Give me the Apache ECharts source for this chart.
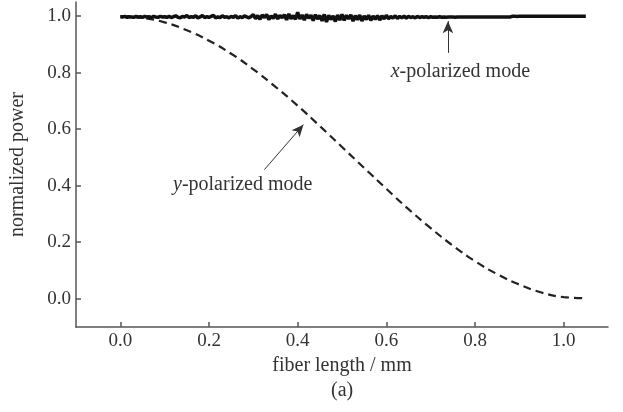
<!DOCTYPE html>
<html>
<head>
<meta charset="utf-8">
<script src="https://cdn.jsdelivr.net/npm/echarts@6/dist/echarts.min.js"></script>
<style>
    html, body { margin: 0; padding: 0; background: #fff; }
    #main { width: 623px; height: 412px; }
</style>
</head>
<body>
<div id="main"></div>
<script>
// y 偏振模：虚线
var yLen = [0, 0.05, 0.10, 0.15, 0.20, 0.25, 0.30, 0.35, 0.40, 0.45, 0.50,
    0.55, 0.60, 0.65, 0.70, 0.75, 0.80, 0.85, 0.90, 0.95, 1.00, 1.05]
var yPower = [1.0, 0.994, 0.978, 0.950, 0.913, 0.867, 0.812, 0.750, 0.683, 0.611, 0.537,
    0.463, 0.389, 0.317, 0.250, 0.188, 0.133, 0.087, 0.050, 0.022, 0.006, 0.002]

// x 偏振模：实线（带噪声），步长 0.005
var xStart = 0
var xStep = 0.005
var xPower = [
    0.998, 0.997, 0.999, 0.996, 0.998, 0.997, 0.996, 0.999, 0.997, 0.998,
    0.996, 0.999, 0.997, 0.998, 0.995, 0.999, 0.997, 0.996, 0.999, 0.997,
    0.998, 0.996, 0.999, 0.995, 0.998, 1.001, 0.996, 0.994, 0.999, 0.997,
    1.002, 0.995, 0.998, 0.996, 1.001, 0.994, 0.997, 1.002, 0.995, 0.998,
    0.996, 0.999, 1.003, 0.994, 0.997, 0.995, 1.001, 0.996, 0.998, 0.994,
    0.999, 0.996, 1.002, 0.993, 0.998, 0.995, 1.001, 0.997, 0.994, 0.999,
    1.005, 0.991, 1.002, 0.989, 1.004, 0.995, 1.006, 0.988, 1.001, 0.992,
    1.007, 0.990, 1.003, 0.994, 1.005, 0.987, 1.008, 0.991, 1.002, 0.989,
    1.014, 0.990, 1.004, 0.986, 1.006, 0.993, 1.003, 0.984, 1.005, 0.990,
    1.002, 0.983, 1.006, 0.979, 1.003, 0.988, 1.001, 0.981, 1.004, 0.986,
    1.006, 0.985, 1.003, 0.990, 1.005, 0.982, 1.002, 0.987, 1.004, 0.983,
    1.001, 0.988, 1.003, 0.985, 1.000, 0.989, 1.002, 0.986, 1.001, 0.990,
    1.003, 0.991, 0.999, 0.993, 1.001, 0.992, 0.999, 0.994, 1.000, 0.993,
    0.999, 0.995, 0.998, 0.994, 0.999, 0.995, 0.998, 0.996, 0.998, 0.995,
    0.998, 0.996, 0.997, 0.996, 0.998, 0.996, 0.997, 0.996, 0.997, 0.997,
    0.997, 0.996, 0.997, 0.997, 0.997, 0.997, 0.997, 0.997, 0.997, 0.997,
    0.997, 0.997, 0.997, 0.997, 0.997, 0.997, 0.997, 0.997, 0.997, 0.997,
    0.997, 0.997, 0.997, 0.997, 0.997, 0.997, 0.997, 1.000, 1.000, 0.999,
    1.000, 1.000, 1.000, 1.000, 1.000, 1.000, 1.000, 1.000, 1.000, 1.000,
    1.000, 1.000, 1.000, 1.000, 1.000, 1.000, 1.000, 1.000, 1.000, 1.000,
    1.000, 1.000, 1.000, 1.000, 1.000, 1.000, 1.000, 1.000, 1.000, 1.000,
    1.000
]

var xTicks = [0.0, 0.2, 0.4, 0.6, 0.8, 1.0]
var yTicks = [0.0, 0.2, 0.4, 0.6, 0.8, 1.0]

var serif = '"Liberation Serif", "DejaVu Serif", serif'
var axisColor = '#555'
var textColor = '#333'

var ySeries = yLen.map(function(v, i) { return [v, yPower[i]] })
var xSeries = xPower.map(function(v, i) { return [+(xStart + i * xStep).toFixed(3), v] })

var myChart = echarts.init(document.getElementById('main'))

var option = {
    animation: false,
    backgroundColor: '#fff',
    grid: { left: 75, right: 15, top: 2, bottom: 85 },
    xAxis: {
        type: 'value',
        min: -0.1,
        max: 1.1,
        interval: 0.1,
        name: 'fiber length / mm',
        nameLocation: 'middle',
        nameGap: 29,
        nameTextStyle: { fontFamily: serif, fontSize: 20, color: textColor },
        axisLine: { onZero: false, lineStyle: { color: axisColor, width: 1.5 } },
        axisTick: {
            inside: true, length: 5,
            lineStyle: { color: axisColor, width: 1.5 },
            customValues: xTicks
        },
        axisLabel: {
            fontFamily: serif, fontSize: 19, color: textColor, margin: 5,
            customValues: xTicks,
            formatter: function(v) { return v.toFixed(1) }
        },
        splitLine: { show: false }
    },
    yAxis: {
        type: 'value',
        min: -0.1,
        max: 1.05,
        name: 'normalized power',
        nameLocation: 'middle',
        nameGap: 48,
        nameTextStyle: { fontFamily: serif, fontSize: 20, color: textColor },
        axisLine: { show: true, onZero: false, lineStyle: { color: axisColor, width: 1.5 } },
        axisTick: {
            show: true, inside: true, length: 5,
            lineStyle: { color: axisColor, width: 1.5 },
            customValues: yTicks
        },
        axisLabel: {
            fontFamily: serif, fontSize: 19, color: textColor, margin: 5,
            customValues: yTicks,
            formatter: function(v) { return v.toFixed(1) }
        },
        splitLine: { show: false }
    },
    series: [
        {
            name: 'y-polarized mode',
            type: 'line',
            data: ySeries,
            smooth: true,
            showSymbol: false,
            lineStyle: { color: '#222', width: 2.2, type: [8, 5] },
            z: 2,
            markLine: {
                silent: true,
                symbol: ['none', 'arrow'],
                symbolSize: [8, 12],
                lineStyle: { color: '#333', width: 1, type: 'solid' },
                label: { show: false },
                data: [[{ coord: [0.325, 0.457] }, { coord: [0.413, 0.616] }]]
            },
            markPoint: {
                silent: true,
                symbolSize: 0,
                label: {
                    show: true,
                    fontFamily: serif, fontSize: 20, color: textColor,
                    formatter: '{i|y}-polarized mode',
                    rich: { i: { fontStyle: 'italic', fontFamily: serif, fontSize: 20, color: textColor } }
                },
                data: [{ coord: [0.276, 0.404] }]
            }
        },
        {
            name: 'x-polarized mode',
            type: 'line',
            data: xSeries,
            showSymbol: false,
            lineStyle: { color: '#111', width: 3.5 },
            z: 3,
            markLine: {
                silent: true,
                symbol: ['none', 'arrow'],
                symbolSize: [8, 12],
                lineStyle: { color: '#333', width: 1, type: 'solid' },
                label: { show: false },
                data: [[{ coord: [0.739, 0.87] }, { coord: [0.739, 0.982] }]]
            },
            markPoint: {
                silent: true,
                symbolSize: 0,
                label: {
                    show: true,
                    fontFamily: serif, fontSize: 20, color: textColor,
                    formatter: '{i|x}-polarized mode',
                    rich: { i: { fontStyle: 'italic', fontFamily: serif, fontSize: 20, color: textColor } }
                },
                data: [{ coord: [0.767, 0.803] }]
            }
        }
    ],
    graphic: [{
        type: 'text',
        left: 331,
        top: 381,
        style: { text: '(a)', font: '20px ' + serif, fill: textColor }
    }]
}

myChart.setOption(option)
</script>
</body>
</html>
